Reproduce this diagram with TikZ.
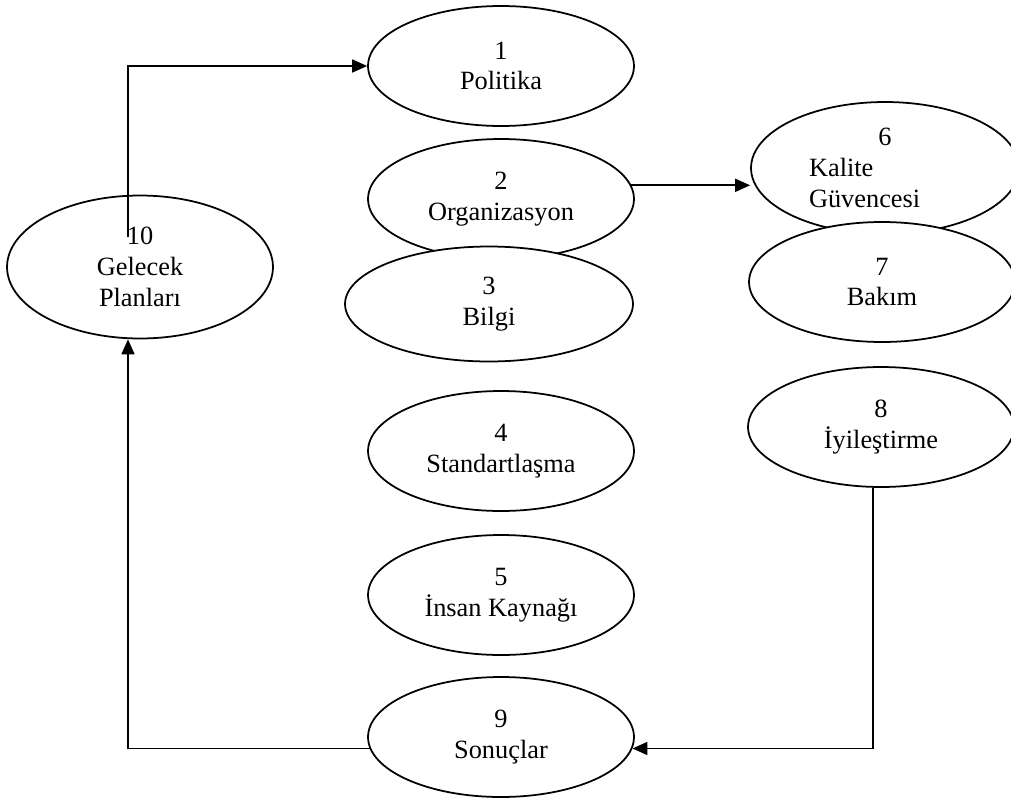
\documentclass[tikz,border=0pt]{standalone}
\usepackage{fontspec}
\setmainfont{Liberation Serif}
\usetikzlibrary{shapes.geometric,arrows.meta,positioning}

\begin{document}
\begin{tikzpicture}[
  x=0.02cm, y=-0.02cm,
  oval/.style={ellipse, draw, fill=white, line width=1pt, inner sep=0pt,
               minimum width=5.32cm, minimum height=2.4cm, align=center,
               font=\fontsize{15}{17.5}\selectfont},
  link/.style={-{Triangle[length=0.3cm,width=0.26cm]}, line width=1pt},
]
  \useasboundingbox (0,0) rectangle (1011,798);

  % middle column
  \node[oval] (politika) at (501,66) {1\\Politika};
  \node[oval] (organizasyon) at (501,199) {2\\Organizasyon};
  \node[oval, minimum width=5.76cm, minimum height=2.3cm] (bilgi) at (489,304)
    {3\\Bilgi};
  \node[oval] (standart) at (501,451) {4\\Standartlaşma};
  \node[oval] (insan) at (501,595) {5\\İnsan Kaynağı};
  \node[oval] (sonuclar) at (501,737) {9\\Sonuçlar};

  % right column
  \node[oval, align=left, text width=3.04cm, minimum width=5.36cm,
        minimum height=2.64cm] (kalite)
    at (885,168) {\makebox[\linewidth]{6}\\Kalite\\Güvencesi};
  \node[oval] (bakim) at (882,282) {7\\Bakım};
  \node[oval] (iyilestirme) at (881,427) {8\\İyileştirme};

  % left
  \node[oval, minimum height=2.86cm] (gelecek) at (140,267)
    {10\\Gelecek\\Planları};

  \draw[link] (gelecek.center) ++(-12,-30) |- (politika);
  \draw[link] (organizasyon.6) -- (organizasyon.6 -| kalite.west);
  \draw[link] ([xshift=-0.16cm]iyilestirme.south) |- (sonuclar.-5.5);
  \draw[link] (sonuclar.185.5) -| ([xshift=-0.24cm]gelecek.south);
\end{tikzpicture}
\end{document}
